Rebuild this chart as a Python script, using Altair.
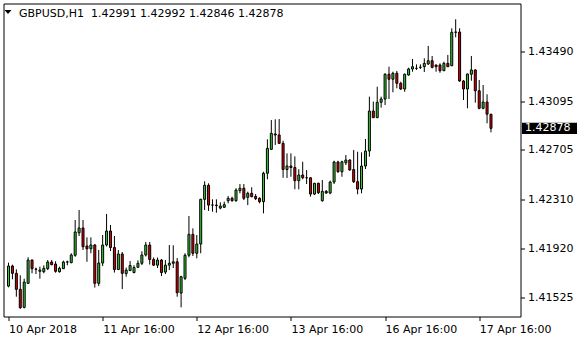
import json
import altair as alt
import pandas as pd

symbol = "GBPUSD,H1"
tick_bars = [0, 24, 48, 72, 96, 120]
tick_labels = ["10 Apr 2018", "11 Apr 16:00", "12 Apr 16:00",
               "13 Apr 16:00", "16 Apr 16:00", "17 Apr 16:00"]
price_ticks = [1.41525, 1.41920, 1.42310, 1.42705, 1.43095, 1.43490]

opens = [1.41618, 1.41778, 1.41720, 1.41592, 1.41448, 1.41640, 1.41826, 1.41754, 1.41736, 1.41733,
         1.41757, 1.41810, 1.41794, 1.41733, 1.41757, 1.41810, 1.41805, 1.41864, 1.42044, 1.42082,
         1.41938, 1.41916, 1.41946, 1.41640, 1.41802, 1.41946, 1.42058, 1.41926, 1.41750, 1.41874,
         1.41718, 1.41742, 1.41726, 1.41768, 1.41800, 1.41866, 1.41946, 1.41830, 1.41785, 1.41826,
         1.41730, 1.41785, 1.41800, 1.41812, 1.41562, 1.41680, 1.41864, 1.42031, 1.41880, 1.41954,
         1.42311, 1.42423, 1.42265, 1.42265, 1.42241, 1.42247, 1.42300, 1.42319, 1.42300, 1.42380,
         1.42399, 1.42327, 1.42359, 1.42334, 1.42319, 1.42292, 1.42519, 1.42710, 1.42833, 1.42825,
         1.42758, 1.42549, 1.42577, 1.42565, 1.42460, 1.42505, 1.42483, 1.42483, 1.42353, 1.42439,
         1.42300, 1.42375, 1.42361, 1.42449, 1.42609, 1.42531, 1.42603, 1.42625, 1.42549, 1.42452,
         1.42393, 1.42577, 1.42697, 1.43016, 1.42963, 1.43086, 1.43112, 1.43310, 1.43270, 1.43318,
         1.43238, 1.43192, 1.43304, 1.43352, 1.43357, 1.43365, 1.43370, 1.43392, 1.43418, 1.43384,
         1.43384, 1.43338, 1.43397, 1.43378, 1.43645, 1.43647, 1.43256, 1.43192, 1.43310, 1.43344,
         1.43178, 1.43038, 1.43088, 1.42991]
highs = [1.41805, 1.41789, 1.41752, 1.41704, 1.41677, 1.41848, 1.41830, 1.41765, 1.41773, 1.41784,
         1.41826, 1.41826, 1.41816, 1.41773, 1.41821, 1.41821, 1.41880, 1.42146, 1.42226, 1.42146,
         1.42007, 1.42007, 1.41954, 1.41906, 1.42026, 1.42194, 1.42106, 1.42018, 1.41906, 1.41890,
         1.41766, 1.41818, 1.41784, 1.41824, 1.41896, 1.41970, 1.41970, 1.41846, 1.41846, 1.41834,
         1.41826, 1.41946, 1.41944, 1.41842, 1.41700, 1.41880, 1.42178, 1.42079, 1.42026, 1.42315,
         1.42455, 1.42439, 1.42311, 1.42311, 1.42287, 1.42292, 1.42337, 1.42332, 1.42399, 1.42433,
         1.42433, 1.42372, 1.42407, 1.42353, 1.42327, 1.42531, 1.42790, 1.42944, 1.42950, 1.42952,
         1.42779, 1.42678, 1.42678, 1.42654, 1.42551, 1.42611, 1.42545, 1.42485, 1.42442, 1.42444,
         1.42465, 1.42385, 1.42460, 1.42619, 1.42619, 1.42619, 1.42665, 1.42630, 1.42705, 1.42691,
         1.42686, 1.42793, 1.43131, 1.43091, 1.43210, 1.43131, 1.43318, 1.43370, 1.43330, 1.43336,
         1.43250, 1.43315, 1.43362, 1.43432, 1.43389, 1.43389, 1.43437, 1.43536, 1.43456, 1.43386,
         1.43397, 1.43410, 1.43464, 1.43677, 1.43749, 1.43677, 1.43264, 1.43315, 1.43456, 1.43350,
         1.43264, 1.43224, 1.43150, 1.42992]
lows = [1.41608, 1.41672, 1.41533, 1.41437, 1.41440, 1.41635, 1.41720, 1.41714, 1.41677, 1.41720,
        1.41746, 1.41784, 1.41725, 1.41725, 1.41755, 1.41784, 1.41800, 1.41852, 1.42018, 1.41906,
        1.41812, 1.41880, 1.41606, 1.41618, 1.41778, 1.41934, 1.41898, 1.41726, 1.41746, 1.41594,
        1.41693, 1.41738, 1.41720, 1.41762, 1.41786, 1.41854, 1.41790, 1.41778, 1.41762, 1.41698,
        1.41714, 1.41746, 1.41762, 1.41533, 1.41448, 1.41666, 1.41848, 1.41858, 1.41840, 1.41880,
        1.42226, 1.42218, 1.42212, 1.42204, 1.42231, 1.42244, 1.42279, 1.42292, 1.42292, 1.42359,
        1.42305, 1.42265, 1.42327, 1.42305, 1.42279, 1.42199, 1.42471, 1.42705, 1.42745, 1.42755,
        1.42483, 1.42481, 1.42491, 1.42391, 1.42391, 1.42471, 1.42433, 1.42332, 1.42345, 1.42353,
        1.42292, 1.42356, 1.42352, 1.42433, 1.42523, 1.42491, 1.42585, 1.42540, 1.42441, 1.42351,
        1.42359, 1.42553, 1.42651, 1.42960, 1.42960, 1.43043, 1.43064, 1.43112, 1.43166, 1.43198,
        1.43184, 1.43170, 1.43298, 1.43330, 1.43344, 1.43352, 1.43328, 1.43384, 1.43357, 1.43330,
        1.43322, 1.43335, 1.43368, 1.43375, 1.43605, 1.43250, 1.43104, 1.43038, 1.43258, 1.43083,
        1.43030, 1.43030, 1.42918, 1.42846]
closes = [1.41778, 1.41720, 1.41592, 1.41445, 1.41650, 1.41826, 1.41757, 1.41752, 1.41746, 1.41760,
          1.41810, 1.41789, 1.41736, 1.41760, 1.41810, 1.41811, 1.41866, 1.42050, 1.42082, 1.41932,
          1.41916, 1.41946, 1.41640, 1.41802, 1.41946, 1.42058, 1.41926, 1.41750, 1.41874, 1.41720,
          1.41746, 1.41782, 1.41766, 1.41800, 1.41866, 1.41946, 1.41830, 1.41785, 1.41826, 1.41726,
          1.41785, 1.41800, 1.41812, 1.41565, 1.41693, 1.41864, 1.42031, 1.41880, 1.41954, 1.42311,
          1.42423, 1.42265, 1.42265, 1.42261, 1.42257, 1.42268, 1.42319, 1.42300, 1.42385, 1.42399,
          1.42319, 1.42359, 1.42332, 1.42316, 1.42292, 1.42519, 1.42718, 1.42838, 1.42825, 1.42758,
          1.42549, 1.42577, 1.42565, 1.42460, 1.42505, 1.42483, 1.42483, 1.42353, 1.42439, 1.42364,
          1.42375, 1.42361, 1.42449, 1.42609, 1.42531, 1.42611, 1.42625, 1.42545, 1.42452, 1.42393,
          1.42577, 1.42697, 1.43016, 1.42963, 1.43086, 1.43112, 1.43310, 1.43270, 1.43318, 1.43238,
          1.43192, 1.43310, 1.43352, 1.43370, 1.43357, 1.43366, 1.43396, 1.43418, 1.43365, 1.43370,
          1.43338, 1.43397, 1.43370, 1.43645, 1.43647, 1.43256, 1.43192, 1.43312, 1.43344, 1.43178,
          1.43038, 1.43088, 1.42991, 1.42878]

bull_color = "#32cd32"
bear_color = "#e00000"
FONT = "DejaVu Sans"

df = pd.DataFrame({"bar": list(range(len(opens))), "open": opens, "high": highs,
                   "low": lows, "close": closes})

x_scale = alt.Scale(domain=[0, 129.25], nice=False, zero=False)
y_scale = alt.Scale(domain=[1.41375, 1.43875], nice=False, zero=False)

label_expr = json.dumps(tick_labels) + "[indexof(" + json.dumps(tick_bars) + ", datum.value)]"

x_axis = alt.Axis(values=tick_bars, labelExpr=label_expr, tickSize=4, domain=False, grid=False,
                  labelAlign="left", labelBaseline="top", labelPadding=3, labelOverlap=False,
                  labelFlush=False, labelBound=False, title=None)
y_axis = alt.Axis(orient="right", values=price_ticks, format=".5f", tickSize=4, domain=False,
                  grid=False, labelPadding=3, labelOverlap=False, labelBound=False,
                  labelFlush=False, title=None)

X = alt.X("bar:Q", scale=x_scale, axis=x_axis, title=None)

base = alt.Chart(df)
wicks = base.mark_rule(color="black", strokeWidth=1).encode(
    x=X,
    y=alt.Y("low:Q", scale=y_scale, axis=y_axis, title=None),
    y2="high:Q",
)
bodies = base.mark_bar(width=2, stroke="black", strokeWidth=1).encode(
    x=X,
    y=alt.Y("open:Q", scale=y_scale, axis=y_axis, title=None),
    y2="close:Q",
    color=alt.condition("datum.close > datum.open", alt.value(bull_color), alt.value(bear_color)),
)

header = f"{symbol}\u00a0\u00a0{opens[-1]:.5f} {highs[-1]:.5f} {lows[-1]:.5f} {closes[-1]:.5f}"
head_df = pd.DataFrame({"t": [header]})
head_text = alt.Chart(head_df).mark_text(align="left", baseline="alphabetic", font=FONT,
                                         fontSize=11, color="black").encode(
    x=alt.value(15.5), y=alt.value(13.5), text="t:N")
head_tri = alt.Chart(head_df).mark_point(shape="M-1,-0.6L1,-0.6L0,0.6Z", filled=True,
                                         color="black", opacity=1, size=49).encode(
    x=alt.value(4.5), y=alt.value(8.5))

last_df = pd.DataFrame({"price": [closes[-1]]})
box = alt.Chart(last_df).mark_point(shape="M-1,-0.205L1,-0.205L1,0.205L-1,0.205Z", filled=True,
                                    color="black", opacity=1, size=3025).encode(
    x=alt.value(546), y=alt.Y("price:Q", scale=y_scale, axis=y_axis, title=None))
box_text = alt.Chart(last_df).mark_text(align="left", baseline="middle", font=FONT,
                                        fontSize=11, color="white").encode(
    x=alt.value(521.5), y=alt.Y("price:Q", scale=y_scale, axis=y_axis, title=None),
    text=alt.Text("price:Q", format=".5f"))

chart = alt.layer(wicks, bodies, head_tri, head_text, box, box_text).properties(
    width=517, height=313,
    padding={"left": 3.5, "top": 3.5, "right": 59.5, "bottom": 23.5},
    autosize=alt.AutoSizeParams(type="none"),
    background="white",
).configure_view(stroke="black", strokeWidth=1).configure_axis(
    labelFont=FONT, labelFontSize=11, labelColor="black", tickColor="black", tickWidth=1)

chart.save("out.html", embed_options={"renderer": "svg", "actions": False})
